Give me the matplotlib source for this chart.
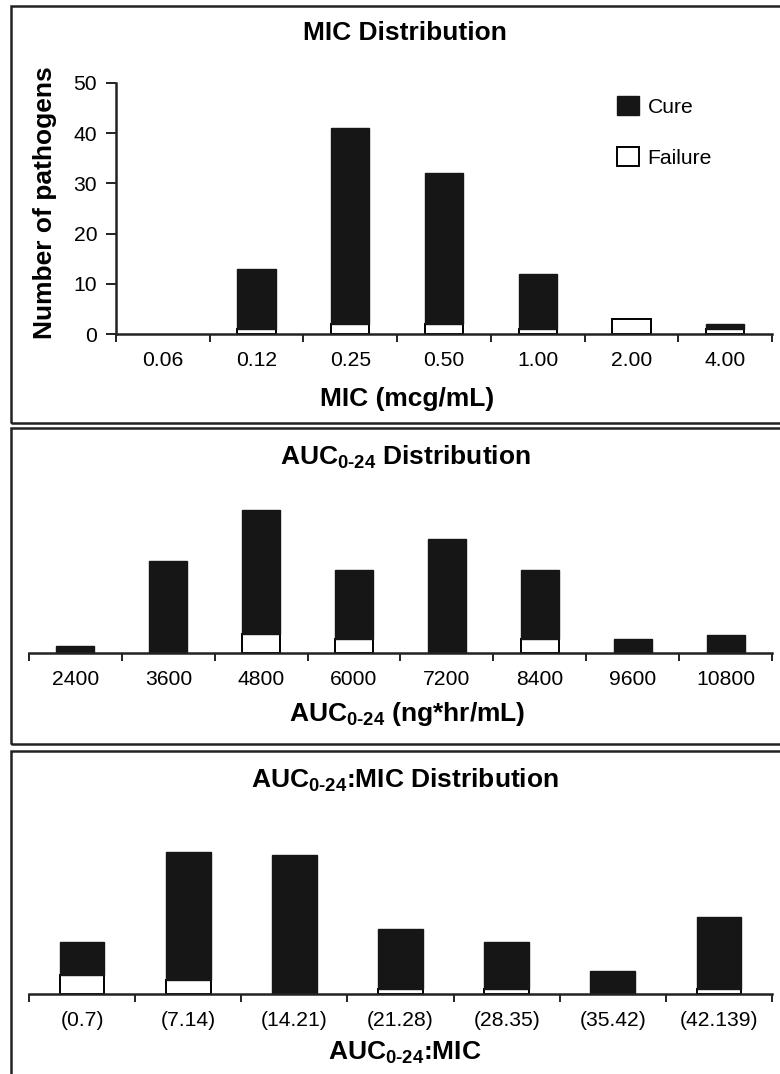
import numpy as np
import matplotlib
matplotlib.use("Agg")
import matplotlib.pyplot as plt
from matplotlib.patches import Patch, Rectangle

plt.rcParams['font.family'] = ['Liberation Sans', 'DejaVu Sans']
plt.rcParams['mathtext.fontset'] = 'custom'
plt.rcParams['mathtext.rm'] = 'Liberation Sans'
plt.rcParams['mathtext.bf'] = 'Liberation Sans:bold'

# MIC distribution
mic_labels = ['0.06', '0.12', '0.25', '0.50', '1.00', '2.00', '4.00']
mic_failure = [0, 1, 2, 2, 1, 3, 1]
mic_cure = [0, 12, 39, 30, 11, 0, 1]

# AUC0-24 distribution (no y scale shown)
auc_labels = ['2400', '3600', '4800', '6000', '7200', '8400', '9600', '10800']
auc_failure = [0, 0, 4, 3, 0, 3, 0, 0]
auc_cure = [1.5, 19.6, 26.5, 14.7, 24.3, 14.7, 3.0, 3.8]

# AUC0-24:MIC distribution
ratio_labels = ['(0.7)', '(7.14)', '(14.21)', '(21.28)', '(28.35)', '(35.42)', '(42.139)']
ratio_failure = [4, 3, 0, 1, 1, 0, 1]
ratio_cure = [7.1, 27.3, 29.6, 12.8, 10.0, 4.8, 15.3]

W, H = 780, 1074
fig = plt.figure(figsize=(W / 100, H / 100), dpi=100)

def box(x, y, w, h):
    # pixel coords, origin top-left
    return [x / W, 1 - (y + h) / H, w / W, h / H]

BLACK = '#161616'
TICKFS = 15.2
BOLDFS = 19

def draw_bars(ax, labels, failure, cure, ymax, width=0.41):
    n = len(labels)
    x = np.arange(n) + 0.5
    fb = ax.bar(x, failure, width, color='white', edgecolor='black', linewidth=1.4, zorder=2)
    cb = ax.bar(x, cure, width, bottom=failure, color=BLACK, edgecolor=BLACK, linewidth=1.0, zorder=2)
    # hide empty segments (no stray outline on the baseline)
    for p in list(fb) + list(cb):
        if p.get_height() == 0:
            p.set_visible(False)
    ax.set_xlim(0, n)
    ax.set_ylim(0, ymax)
    ax.set_xticks(np.arange(n + 1))
    ax.set_xticklabels([])
    ax.set_xticks(x, minor=True)
    ax.set_xticklabels(labels, minor=True, fontsize=TICKFS)
    ax.tick_params(axis='x', which='major', direction='out', length=6, width=1.4, color='#222222')
    ax.tick_params(axis='x', which='minor', length=0, pad=12)
    for s in ['top', 'right']:
        ax.spines[s].set_visible(False)
    ax.spines['bottom'].set_linewidth(1.8)
    ax.spines['bottom'].set_color('#222222')
    ax.patch.set_alpha(0)

# panel 1
ax1 = fig.add_axes(box(116, 83, 656, 251))
draw_bars(ax1, mic_labels, mic_failure, mic_cure, 50)
ax1.set_yticks([0, 10, 20, 30, 40, 50])
ax1.tick_params(axis='y', direction='out', length=7.5, width=1.4, labelsize=TICKFS, pad=6, color='#222222')
ax1.spines['left'].set_linewidth(1.8)
ax1.spines['left'].set_color('#222222')

leg = ax1.legend(handles=[Patch(facecolor=BLACK, edgecolor=BLACK, label='Cure'),
                          Patch(facecolor='white', edgecolor='black', linewidth=1.4, label='Failure')],
                 loc='upper left', bbox_to_anchor=(617 / W, 1 - 96 / H), bbox_transform=fig.transFigure,
                 frameon=False, fontsize=TICKFS, handlelength=1.05, handleheight=1.0,
                 handletextpad=0.4, labelspacing=1.45, borderpad=0, borderaxespad=0)

# panel 2
ax2 = fig.add_axes(box(29, 653 - 164.5, 743, 164.5))
draw_bars(ax2, auc_labels, auc_failure, auc_cure, 35)
ax2.spines['left'].set_visible(False)
ax2.set_yticks([])

# panel 3
ax3 = fig.add_axes(box(29, 994 - 164.5, 743, 164.5))
draw_bars(ax3, ratio_labels, ratio_failure, ratio_cure, 35, width=0.42)
ax3.spines['left'].set_visible(False)
ax3.set_yticks([])

# texts
def ftext(x, y, s, **kw):
    fig.text(x / W, 1 - y / H, s, ha='center', va='center', fontsize=BOLDFS, fontweight='bold', **kw)

ftext(405, 33, 'MIC Distribution')
ftext(407, 399, 'MIC (mcg/mL)')
ftext(45, 203, 'Number of pathogens', rotation=90)
ftext(405, 457, r'$\mathbf{AUC_{0‐24}}$ Distribution')
ftext(407, 714, r'$\mathbf{AUC_{0‐24}}$ (ng*hr/mL)')
ftext(405, 780, r'$\mathbf{AUC_{0‐24}}$:MIC Distribution')
ftext(405, 1053, r'$\mathbf{AUC_{0‐24}}$:MIC')

# panel frames
for top, bottom in [(5.5, 422.5), (428, 744), (750.7, 1100)]:
    fig.patches.append(Rectangle((11.3 / W, 1 - bottom / H), 1.2, (bottom - top) / H,
                                 transform=fig.transFigure, fill=False,
                                 edgecolor='#222222', linewidth=1.8))

fig.savefig('out.png', dpi=100)
